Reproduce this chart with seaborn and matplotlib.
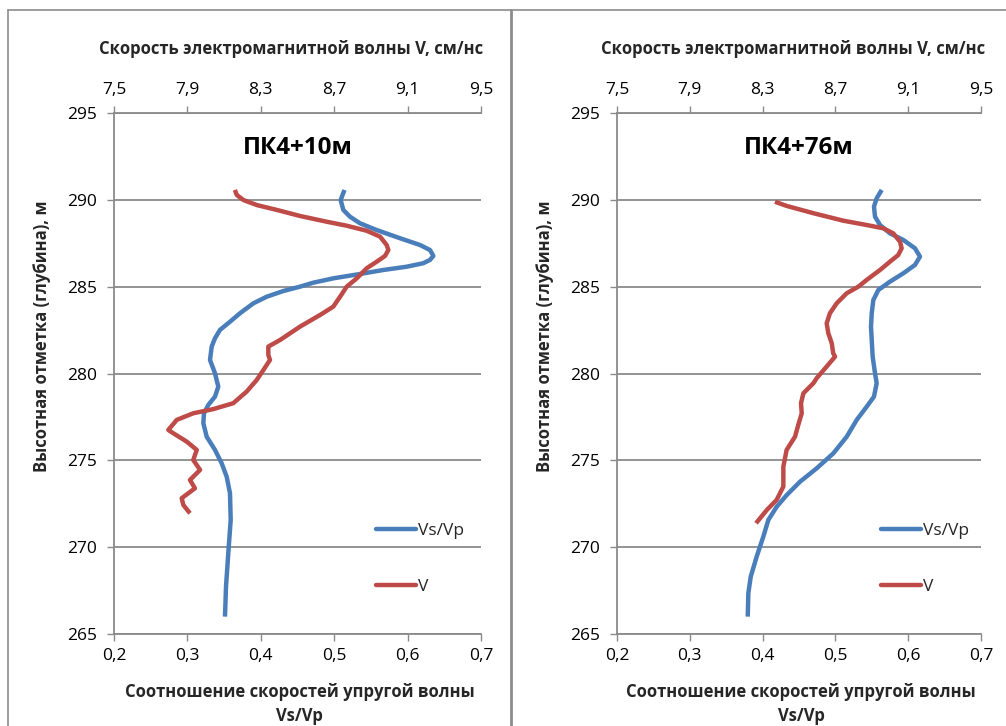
import matplotlib
matplotlib.use("Agg")
import matplotlib.pyplot as plt
import seaborn as sns
from matplotlib.lines import Line2D

# ---------------- data ----------------
panel_titles = ["ПК4+10м", "ПК4+76м"]
top_axis_label = "Скорость электромагнитной волны V, см/нс"
bottom_axis_label = "Соотношение скоростей упругой волны\nVs/Vp"
y_axis_label = "Высотная отметка (глубина), м"
legend_labels = ["Vs/Vp", "V"]

ratio_ticks = [0.2, 0.3, 0.4, 0.5, 0.6, 0.7]
ratio_tick_labels = ["0,2", "0,3", "0,4", "0,5", "0,6", "0,7"]
v_ticks = [7.5, 7.9, 8.3, 8.7, 9.1, 9.5]
v_tick_labels = ["7,5", "7,9", "8,3", "8,7", "9,1", "9,5"]
depth_ticks = [265, 270, 275, 280, 285, 290, 295]

# Left panel (ПК4+10м)
left_ratio_depth = [290.57, 289.99, 289.42, 289.03, 288.65, 288.26, 287.79, 287.40, 287.11,
                    286.77, 286.54, 286.35, 286.15, 285.96, 285.73, 285.48, 285.23, 285.0,
                    284.75, 284.42, 284.04, 283.47, 282.98, 282.51, 282.03, 281.55, 280.78,
                    280.01, 279.24, 278.67, 278.19, 277.71, 277.14, 276.36, 275.60, 274.83,
                    274.06, 273.11, 271.57, 269.65, 267.73, 266.0]
left_ratio = [0.514, 0.5088, 0.5124, 0.5215, 0.5351, 0.5579, 0.5896, 0.6169, 0.6305,
              0.6351, 0.6305, 0.6214, 0.5988, 0.5669, 0.5351, 0.4988, 0.4716, 0.4534,
              0.4307, 0.4080, 0.3898, 0.3717, 0.3580, 0.3444, 0.3376, 0.3331, 0.3308,
              0.3376, 0.3421, 0.3376, 0.3285, 0.3226, 0.3217, 0.3263, 0.3376, 0.3467,
              0.3535, 0.3580, 0.3590, 0.3557, 0.3526, 0.3512]

left_v_depth = [290.57, 290.28, 289.99, 289.70, 289.42, 289.07, 288.74, 288.51, 288.22,
                287.88, 287.40, 287.11, 286.77, 286.44, 286.06, 285.48, 285.0, 284.42,
                283.85, 283.37, 282.70, 281.93, 281.55, 281.07, 280.78, 280.20, 279.63,
                278.96, 278.29, 277.95, 277.71, 277.33, 276.75, 276.56, 276.08, 275.60,
                275.02, 274.45, 273.87, 273.39, 272.82, 272.43, 271.95]
left_v = [8.159, 8.169, 8.205, 8.278, 8.387, 8.514, 8.659, 8.768, 8.877,
          8.950, 8.986, 8.995, 8.977, 8.932, 8.877, 8.823, 8.768, 8.732,
          8.695, 8.623, 8.514, 8.405, 8.341, 8.341, 8.350, 8.314, 8.278,
          8.223, 8.150, 8.041, 7.932, 7.842, 7.796, 7.823, 7.896, 7.951,
          7.932, 7.969, 7.914, 7.941, 7.869, 7.878, 7.914]

# Right panel (ПК4+76м)
right_ratio_depth = [290.57, 290.09, 289.61, 289.03, 288.55, 288.07, 287.69, 287.21, 286.73,
                     286.25, 285.77, 285.29, 284.81, 284.23, 283.47, 282.70, 281.93, 280.97,
                     280.01, 279.44, 278.67, 278.09, 277.33, 276.36, 275.40, 274.54, 273.77,
                     273.0, 272.33, 271.57, 270.61, 269.46, 268.30, 267.35, 266.0]
right_ratio = [0.5636, 0.5567, 0.5530, 0.5544, 0.5613, 0.5750, 0.5933, 0.6093, 0.6162,
               0.6093, 0.5933, 0.5750, 0.5590, 0.5521, 0.5499, 0.5489, 0.5499, 0.5512,
               0.5544, 0.5567, 0.5530, 0.5430, 0.5293, 0.5155, 0.4971, 0.4743, 0.4514,
               0.4331, 0.4194, 0.4079, 0.4010, 0.3919, 0.3837, 0.3804, 0.3796]

right_v_depth = [289.89, 289.65, 289.23, 288.80, 288.55, 288.36, 288.07, 287.59, 287.21,
                 286.82, 286.44, 285.96, 285.39, 285.0, 284.62, 284.04, 283.47, 282.89,
                 282.32, 281.74, 281.17, 280.97, 280.40, 279.73, 279.44, 278.86, 278.29,
                 277.71, 277.04, 276.36, 275.60, 274.64, 273.49, 272.72, 272.14, 271.38]
right_v = [8.368, 8.432, 8.579, 8.743, 8.872, 8.963, 9.018, 9.055, 9.064,
           9.045, 9.000, 8.945, 8.872, 8.826, 8.762, 8.707, 8.670, 8.652,
           8.661, 8.680, 8.688, 8.698, 8.652, 8.597, 8.579, 8.524, 8.511,
           8.515, 8.496, 8.478, 8.432, 8.414, 8.414, 8.377, 8.323, 8.264]

# ---------------- style ----------------
sns.set_theme(style="white")
plt.rcParams['font.family'] = ['Open Sans', 'DejaVu Sans']

BLUE = "#4a7ebb"
RED = "#be4b48"
GRID = "#8a8a8a"
W, H = 1006, 726

fig = plt.figure(figsize=(W / 100, H / 100), dpi=100)
fig.patch.set_facecolor("white")

panels = [
    dict(rect=[114 / W, 92 / H, 367 / W, 521 / H], title=panel_titles[0],
         rd=left_ratio_depth, r=left_ratio, vd=left_v_depth, v=left_v,
         leg_x=376 / W, ylab_x=42 / W),
    dict(rect=[617 / W, 92 / H, 364 / W, 521 / H], title=panel_titles[1],
         rd=right_ratio_depth, r=right_ratio, vd=right_v_depth, v=right_v,
         leg_x=881 / W, ylab_x=545 / W),
]

LW = 3.2

for p in panels:
    ax = fig.add_axes(p["rect"])
    ax.set_facecolor("none")
    sns.lineplot(x=p["r"], y=p["rd"], orient="y", estimator=None, sort=True,
                 ax=ax, color=BLUE, lw=LW, solid_joinstyle="round",
                 solid_capstyle="butt")
    ax.set_xlim(0.2, 0.7)
    ax.set_ylim(265, 295)
    ax.set_xticks(ratio_ticks)
    ax.set_xticklabels(ratio_tick_labels)
    ax.set_yticks(depth_ticks)
    ax.set_yticklabels([str(t) for t in depth_ticks])
    ax.yaxis.grid(True, color=GRID, lw=1.3)
    ax.xaxis.grid(False)
    ax.set_xlabel("")
    ax.set_ylabel("")
    for s in ["right", "top"]:
        ax.spines[s].set_visible(False)
    for s in ["left", "bottom"]:
        ax.spines[s].set_color(GRID)
        ax.spines[s].set_linewidth(1.3)
    ax.tick_params(axis="both", which="both", direction="out", length=5,
                   width=1.0, color=GRID, labelsize=12.5, labelcolor="black")
    ax.tick_params(axis="x", pad=5, bottom=True)
    ax.tick_params(axis="y", pad=7, left=True)

    ax2 = ax.twiny()
    ax2.set_facecolor("none")
    sns.lineplot(x=p["v"], y=p["vd"], orient="y", estimator=None, sort=True,
                 ax=ax2, color=RED, lw=LW, solid_joinstyle="round",
                 solid_capstyle="butt")
    ax2.set_xlim(7.5, 9.5)
    ax2.set_ylim(265, 295)
    ax2.set_xticks(v_ticks)
    ax2.set_xticklabels(v_tick_labels)
    ax2.set_xlabel("")
    ax2.set_ylabel("")
    for s in ["right", "bottom", "left"]:
        ax2.spines[s].set_visible(False)
    ax2.spines["top"].set_visible(True)
    ax2.spines["top"].set_color(GRID)
    ax2.spines["top"].set_linewidth(1.3)
    ax2.tick_params(axis="x", which="both", direction="out", length=5, width=1.0,
                    color=GRID, labelsize=12.5, labelcolor="black", pad=6,
                    top=True, labeltop=True, bottom=False, labelbottom=False)

    # panel title
    ax.text(0.5, 0.933, p["title"], transform=ax.transAxes, ha="center",
            va="center", fontsize=17.5, fontweight="bold", color="black")

    # axis labels
    cx = p["rect"][0] + p["rect"][2] / 2
    fig.text(cx - 6 / W, 1 - 49 / H, top_axis_label, ha="center", va="center",
             fontsize=12, fontweight="bold")
    fig.text(cx + 2 / W, 1 - 704 / H, bottom_axis_label, ha="center",
             va="center", fontsize=12, fontweight="bold", linespacing=1.45)
    fig.text(p["ylab_x"], 1 - 336 / H, y_axis_label, ha="center", va="center",
             rotation=90, fontsize=12, fontweight="bold")

    handles = [Line2D([], [], color=BLUE, lw=LW),
               Line2D([], [], color=RED, lw=LW)]
    ax2.legend(handles, legend_labels, loc="center left",
               bbox_to_anchor=(p["leg_x"], 1 - 559 / H),
               bbox_transform=fig.transFigure, frameon=False, fontsize=12.5,
               handlelength=2.3, handletextpad=0.1, labelspacing=2.25,
               borderpad=0, borderaxespad=0)

# frame lines
fig.add_artist(Line2D([8 / W, 8 / W], [0, 1 - 10 / H], transform=fig.transFigure,
                      color="#8c8c8c", lw=1.2))
fig.add_artist(Line2D([8 / W, 1], [1 - 10 / H, 1 - 10 / H], transform=fig.transFigure,
                      color="#8c8c8c", lw=1.2))
fig.add_artist(Line2D([511 / W, 511 / W], [0, 1 - 10 / H], transform=fig.transFigure,
                      color="#8c8c8c", lw=2.0))

fig.savefig("out.png", dpi=100)
